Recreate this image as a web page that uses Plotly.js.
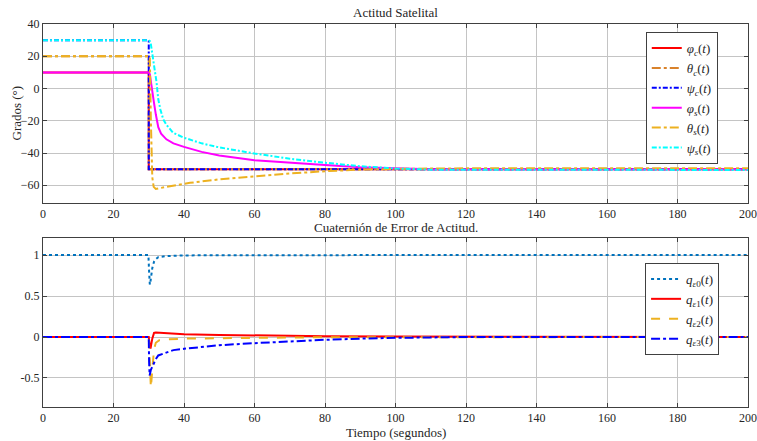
<!DOCTYPE html>
<html><head><meta charset="utf-8">
<script src="https://cdn.plot.ly/plotly-3.0.1.min.js"></script>
<style>html,body{margin:0;padding:0;background:#fff}#g{width:757px;height:441px}</style>
</head><body><div id="g"></div>
<script>
// ---- Top plot data (degrees) ----
var tPhiC = [0, 30, 30, 200];
var phiC  = [10, 10, -50, -50];
var tThetaC = [0, 30, 30, 200];
var thetaC  = [20, 20, -50, -50];
var tPsiC = [0, 30, 30, 200];
var psiC  = [30, 30, -50, -50];

var tPhiS = [0, 30, 30.3, 31, 31.5, 32, 32.7, 33.5, 35, 37, 40, 45, 50, 60, 70, 80, 90, 100, 110, 200];
var phiS  = [10, 10, 9, 0, -9, -16, -24, -28, -31.5, -34, -36.2, -39.3, -41.5, -44.5, -46.2, -47.5, -48.8, -49.6, -50, -50];

var tThetaS = [0, 30.3, 30.6, 31, 31.4, 32, 33, 35, 38, 41.7, 50, 60, 70, 80, 90, 100, 120, 200];
var thetaS  = [20, 20, -20, -55, -61, -62.3, -61.8, -61, -59.8, -58.5, -56.3, -54.4, -52.7, -51.3, -50.3, -49.8, -49.5, -49.5];

var tPsiS = [0, 30, 30.5, 31, 31.7, 32.2, 32.7, 33.3, 34.1, 35, 36.9, 40, 45, 50, 60, 70, 80, 90, 100, 110, 200];
var psiS  = [30, 30, 29, 22, 14, 4, -6.7, -13, -19, -22.5, -27.4, -30.5, -34, -36.5, -40.3, -43.5, -46, -48.2, -49.6, -50.3, -50.5];

// ---- Bottom plot data (error quaternion) ----
var tQ0 = [0, 29.9, 30.1, 30.3, 30.5, 31, 31.5, 32, 32.7, 35, 40, 50, 200];
var q0  = [1, 1, 0.8, 0.64, 0.68, 0.84, 0.92, 0.95, 0.975, 0.988, 0.995, 0.999, 1];

var tQ1 = [0, 30, 30.2, 30.5, 31, 31.5, 32, 35, 40, 50, 60, 80, 100, 150, 200];
var q1  = [0, 0, -0.08, -0.14, -0.02, 0.05, 0.055, 0.045, 0.035, 0.025, 0.018, 0.01, 0.005, 0.001, 0];

var tQ2 = [0, 30, 30.3, 30.6, 31, 31.5, 32, 33, 35, 40, 60, 80, 200];
var q2  = [0, 0, -0.3, -0.62, -0.4, -0.15, -0.07, -0.04, -0.03, -0.02, -0.01, -0.003, 0];

var tQ3 = [0, 30, 30.1, 30.25, 30.6, 31.3, 32, 32.7, 35, 37, 40, 50, 60, 70, 80, 90, 100, 120, 200];
var q3  = [0, 0, -0.3, -0.47, -0.4, -0.33, -0.27, -0.225, -0.185, -0.16, -0.144, -0.1, -0.075, -0.05, -0.034, -0.02, -0.01, 0, 0];

var xTicks = [0, 20, 40, 60, 80, 100, 120, 140, 160, 180, 200];

var FONT = 'Liberation Serif';
var TXT = '#262626';

function tr(x, y, name, color, dash, width, xa, ya, leg) {
  return {x: x, y: y, name: name, type: 'scatter', mode: 'lines',
    line: {color: color, dash: dash, width: width},
    xaxis: xa, yaxis: ya, legend: leg};
}

var data = [
  tr(tPhiC, phiC, '<i>φ</i><sub><i>c</i></sub>(<i>t</i>)', '#FF0000', 'solid', 2, 'x', 'y', 'legend'),
  tr(tThetaC, thetaC, '<i>θ</i><sub><i>c</i></sub>(<i>t</i>)', '#D9822B', 'dashdot', 2, 'x', 'y', 'legend'),
  tr(tPsiC, psiC, '<i>ψ</i><sub><i>c</i></sub>(<i>t</i>)', '#0000FF', '5px,2px,2px,2px', 2, 'x', 'y', 'legend'),
  tr(tPhiS, phiS, '<i>φ</i><sub><i>s</i></sub>(<i>t</i>)', '#FF00FF', 'solid', 2, 'x', 'y', 'legend'),
  tr(tThetaS, thetaS, '<i>θ</i><sub><i>s</i></sub>(<i>t</i>)', '#EDB120', 'dashdot', 2, 'x', 'y', 'legend'),
  tr(tPsiS, psiS, '<i>ψ</i><sub><i>s</i></sub>(<i>t</i>)', '#00FFFF', '5px,2px,2px,2px', 2, 'x', 'y', 'legend'),
  tr(tQ0, q0, '<i>q</i><sub><i>ε</i>0</sub>(<i>t</i>)', '#0072BD', 'dot', 2, 'x2', 'y2', 'legend2'),
  tr(tQ1, q1, '<i>q</i><sub><i>ε</i>1</sub>(<i>t</i>)', '#FF0000', 'solid', 2, 'x2', 'y2', 'legend2'),
  tr(tQ2, q2, '<i>q</i><sub><i>ε</i>2</sub>(<i>t</i>)', '#EDB120', 'dash', 2, 'x2', 'y2', 'legend2'),
  tr(tQ3, q3, '<i>q</i><sub><i>ε</i>3</sub>(<i>t</i>)', '#0000FF', 'dashdot', 2, 'x2', 'y2', 'legend2')
];

var axBase = {
  showgrid: true, gridcolor: '#c4c4c4', gridwidth: 1,
  showline: true, linecolor: '#404040', linewidth: 1, mirror: 'ticks',
  ticks: 'inside', ticklen: 4, tickcolor: '#404040',
  zeroline: false, tickfont: {family: FONT, size: 12, color: TXT}
};
function ax(extra) { return Object.assign({}, axBase, extra); }

var layout = {
  width: 757, height: 441,
  margin: {l: 43, r: 9, t: 24, b: 34},
  paper_bgcolor: '#fff', plot_bgcolor: '#fff',
  font: {family: FONT, size: 12, color: TXT},
  xaxis: ax({domain: [0, 1], anchor: 'y', range: [0, 200], tickvals: xTicks}),
  yaxis: ax({domain: [0.5326, 1], anchor: 'x', range: [-71, 40], tickvals: [-60, -40, -20, 0, 20, 40]}),
  xaxis2: ax({domain: [0, 1], anchor: 'y2', range: [0, 200], tickvals: xTicks}),
  yaxis2: ax({domain: [0, 0.441], anchor: 'x2', range: [-0.854, 1.207], tickvals: [-0.5, 0, 0.5, 1], ticktext: ['-0.5', '0', '0.5', '1']}),
  legend: {x: 0.855, y: 0.979, xanchor: 'left', yanchor: 'top', bgcolor: '#fff',
    bordercolor: '#404040', borderwidth: 1, font: {family: FONT, size: 13, color: TXT},
    tracegroupgap: 0, itemwidth: 30},
  legend2: {x: 0.854, y: 0.376, xanchor: 'left', yanchor: 'top', bgcolor: '#fff',
    bordercolor: '#404040', borderwidth: 1, font: {family: FONT, size: 13, color: TXT},
    tracegroupgap: 0, itemwidth: 30},
  annotations: [
    {text: 'Actitud Satelital', xref: 'paper', yref: 'paper', x: 0.5, y: 1, yshift: 2,
     xanchor: 'center', yanchor: 'bottom', showarrow: false, font: {family: FONT, size: 13, color: TXT}},
    {text: 'Cuaternión de Error de Actitud.', xref: 'paper', yref: 'paper', x: 0.5, y: 0.441, yshift: 1,
     xanchor: 'center', yanchor: 'bottom', showarrow: false, font: {family: FONT, size: 13, color: TXT}},
    {text: 'Grados (°)', xref: 'paper', yref: 'paper', x: 0, xshift: -26, y: 0.7663, textangle: -90,
     xanchor: 'center', yanchor: 'middle', showarrow: false, font: {family: FONT, size: 13, color: TXT}},
    {text: 'Tiempo (segundos)', xref: 'paper', yref: 'paper', x: 0.5, y: 0, yshift: -25,
     xanchor: 'center', yanchor: 'middle', showarrow: false, font: {family: FONT, size: 13, color: TXT}}
  ],
  showlegend: true
};

Plotly.newPlot('g', data, layout, {displayModeBar: false, staticPlot: true});
</script></body></html>
